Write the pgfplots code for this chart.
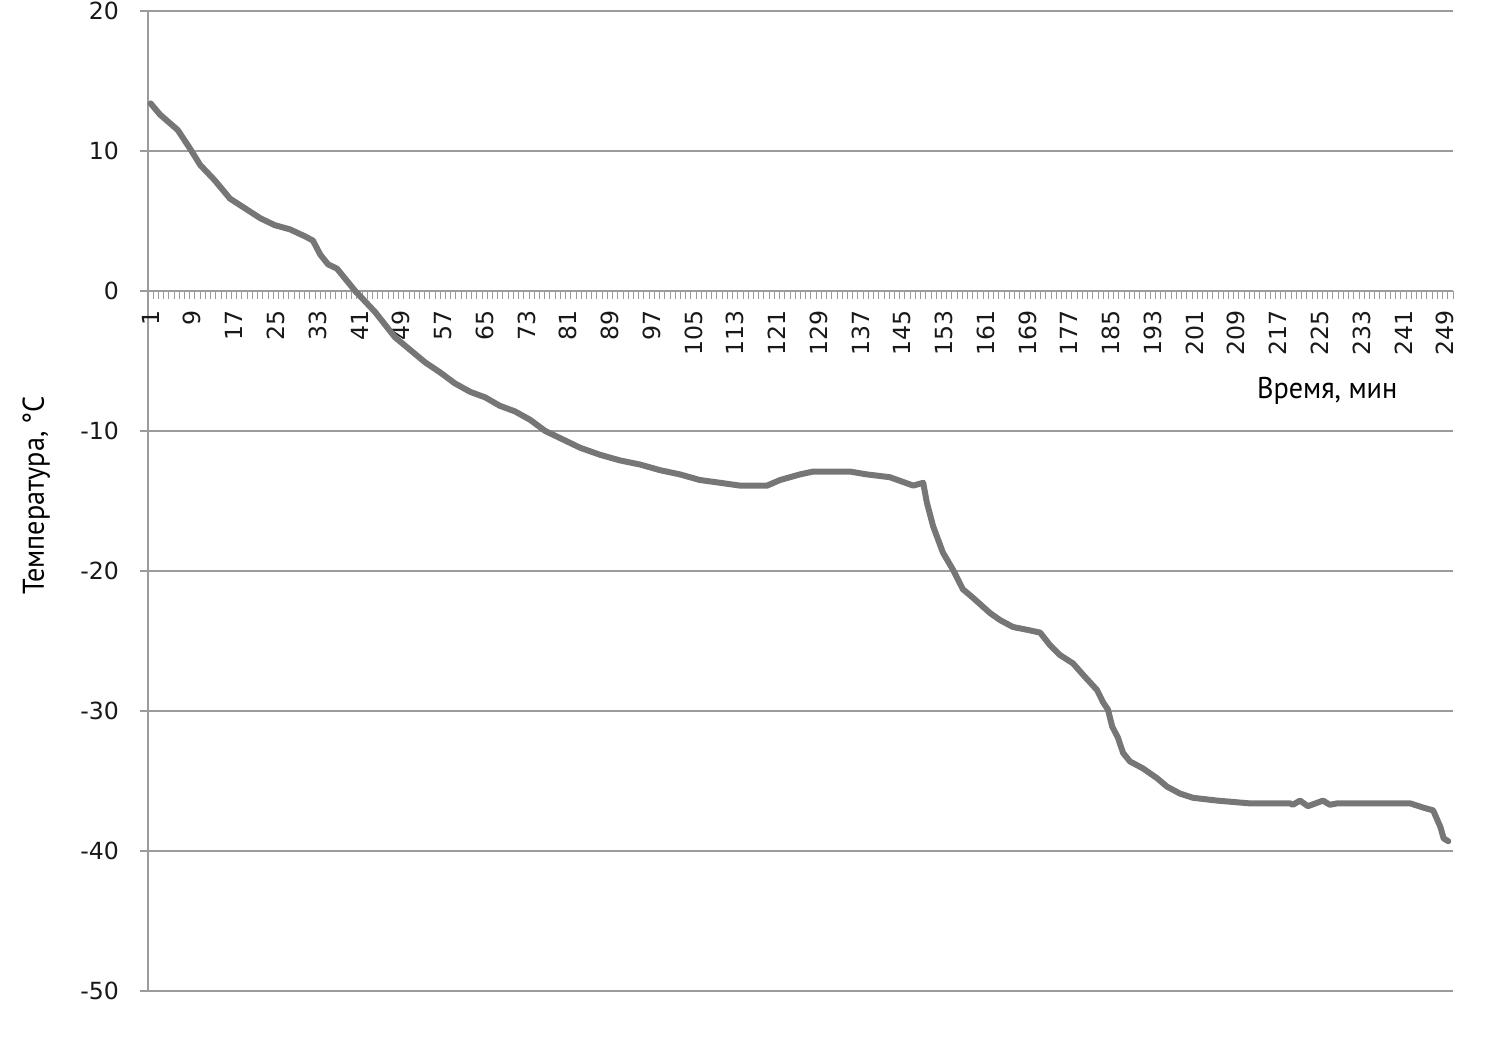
\documentclass[border=0pt]{standalone}
\usepackage{fontspec}
\setmainfont{DejaVu Sans}
\newfontfamily\condfont[FakeStretch=0.94]{PT Sans}
\usepackage{pgfplots}
\pgfplotsset{compat=1.18}
\definecolor{linegray}{RGB}{118,118,118}
\definecolor{gridgray}{RGB}{155,155,155}
\pgfplotstableread{
x y
1 13.4
2.8 12.6
6.2 11.5
8.5 10.2
10.5 9.0
13.3 7.9
16.2 6.6
19.1 5.9
22 5.2
24.8 4.7
27.7 4.4
30.6 3.9
32.1 3.6
33.5 2.6
35 1.9
36.7 1.6
40.2 0
44 -1.5
47.8 -3.3
50.7 -4.2
53.6 -5.1
56.4 -5.8
59.3 -6.6
62.2 -7.2
65.1 -7.6
67.9 -8.2
70.8 -8.6
73.7 -9.2
76.6 -10.0
79.4 -10.5
83.3 -11.2
87.1 -11.7
90.9 -12.1
94.8 -12.4
98.6 -12.8
102.4 -13.1
106.2 -13.5
110.1 -13.7
113.9 -13.9
117.7 -13.9
119.1 -13.9
121.6 -13.5
125.4 -13.1
127.9 -12.9
135 -12.9
138.2 -13.1
142.6 -13.3
147.1 -13.9
149 -13.7
149.7 -15.1
150.9 -16.8
152.8 -18.7
154.7 -19.9
156.6 -21.3
158.5 -21.9
161.8 -23.0
163.7 -23.5
166.2 -24.0
168.9 -24.2
171.4 -24.4
173.3 -25.3
175.2 -26.0
177.7 -26.6
179.6 -27.4
182.3 -28.5
183.5 -29.4
184.4 -29.9
185.2 -31.1
186.3 -31.9
187.3 -33.0
188.6 -33.6
191.1 -34.1
193.8 -34.8
195.7 -35.4
198.2 -35.9
200.7 -36.2
205.3 -36.4
211.6 -36.6
219.3 -36.6
219.8 -36.7
221.2 -36.4
222.7 -36.8
225.6 -36.4
226.9 -36.7
228.3 -36.6
242.3 -36.6
244.8 -36.9
246.7 -37.1
248.1 -38.3
248.7 -39.1
249.6 -39.3
}\tempdata
\begin{document}
\begin{tikzpicture}
\begin{axis}[
  scale only axis, width=652.5pt, height=490pt,
  xmin=0.5, xmax=250.5, ymin=-50, ymax=20,
  clip=false,
  axis x line=middle, axis y line=left,
  axis line style={gridgray, line width=0.9pt, -},
  x axis line style={-}, y axis line style={-},
  ytick={-50,-40,...,20},
  yticklabels={-50,-40,-30,-20,-10,0,10,20},
  ymajorgrids, grid style={gridgray, line width=0.9pt},
  xtick={1,9,...,249},
  minor xtick={0.5,1.5,...,250.5},
  major x tick style={draw=none},
  minor x tick style={gridgray, line width=0.5pt},
  major y tick style={gridgray, line width=0.9pt},
  major tick length=4pt, minor tick length=4pt,
  tick align=outside,
  xtick align=outside,
  /pgf/number format/assume math mode=true,
  ticklabel style={font=\fontsize{11.8}{12}\selectfont, text=black!90},
  xticklabel style={rotate=90, anchor=east},
  yticklabel style={xshift=-7pt},
  xticklabel shift=2pt,
]
\addplot[linegray, line width=3pt, line join=round, line cap=round] table[x=x,y=y] {\tempdata};
\node[font=\condfont\fontsize{15}{17}\selectfont] at (axis cs:226.4,-7.14) {Время, мин};
\node[rotate=90, font=\condfont\fontsize{15}{17}\selectfont] at (axis cs:-20.9,-14.6) {Температура, °C};
\coordinate (bbA) at (rel axis cs:0,0);
\coordinate (bbB) at (rel axis cs:1,1);
\end{axis}
\pgfresetboundingbox
\path ([shift={(-74pt,-28.5pt)}]bbA) rectangle ([shift={(22.5pt,5.5pt)}]bbB);
\end{tikzpicture}
\end{document}
